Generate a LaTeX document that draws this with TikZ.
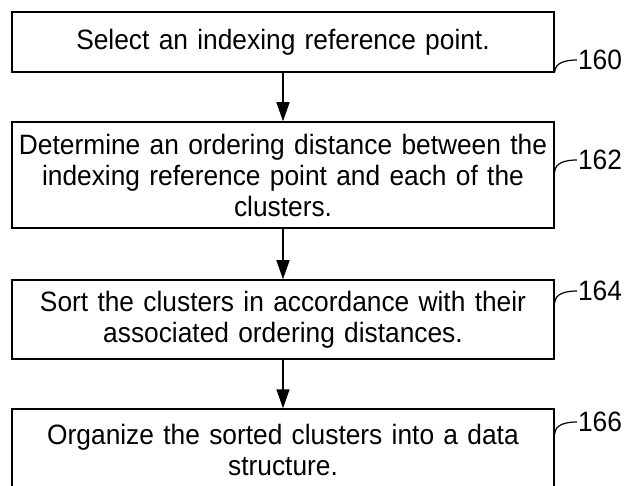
\documentclass[tikz,border=0pt]{standalone}
\usepackage{fontspec}
\setmainfont[FakeStretch=0.94]{Liberation Sans}
\usepackage{tikz}
\usetikzlibrary{arrows.meta,calc,positioning}
\tikzstyle{stepbox} = [draw=black,line width=1.5pt,minimum width=542pt,text width=536pt,align=center,inner sep=0pt,font=\fontsize{28}{31}\selectfont]
\tikzstyle{flow} = [line width=1.5pt,-{Triangle[length=19pt,width=13pt]}]
\tikzstyle{leader} = [line width=1.2pt]
\tikzstyle{reflabel} = [inner sep=1pt,font=\fontsize{28}{31}\selectfont]

\begin{document}
\begin{tikzpicture}[x=1pt,y=-1pt]
    \useasboundingbox (0,0) rectangle (626,486);
    \node[stepbox,minimum height=60pt] (s1) at (283,42) {Select an indexing reference point.};
    \node[stepbox,minimum height=106pt] (s2) at (283,175) {Determine an ordering distance between the\\ indexing reference point and each of the\\ clusters.};
    \node[stepbox,minimum height=79pt] (s3) at (283,319.5) {Sort the clusters in accordance with their\\ associated ordering distances.};
    \node[stepbox,minimum height=82pt] (s4) at (283,450) {Organize the sorted clusters into a data\\ structure.};
    \draw[flow] (s1) -- (s2);
    \draw[flow] (s2) -- (s3);
    \draw[flow] (s3) -- (s4);
    \foreach \n/\num/\y in {s1/160/60,s2/162/160,s3/164/291,s4/166/422} {
        \node[reflabel] (r\num) at (600,\y) {\num};
        \draw[leader] ($(\n.east |- r\num.west)+(0,12)$) to[out=90,in=180] (r\num.west);
    }
\end{tikzpicture}
\end{document}
